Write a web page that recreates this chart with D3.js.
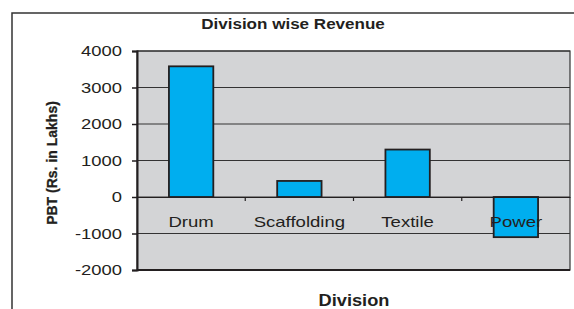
<!DOCTYPE html>
<html><head><meta charset="utf-8">
<script src="https://cdn.jsdelivr.net/npm/d3@7"></script>
<style>body{margin:0;background:#fff}svg{display:block}text{font-family:"Liberation Sans",Arial,sans-serif;fill:#231f20}</style>
</head><body><svg id="c" width="574" height="309"></svg>
<script>
const categories = ["Drum","Scaffolding","Textile","Power"];
const values = [3580, 440, 1300, -1100];
const yTicks = [-2000,-1000,0,1000,2000,3000,4000];
const title = "Division wise Revenue";
const xTitle = "Division";
const yTitle = "PBT (Rs. in Lakhs)";

const svg = d3.select("#c");
const L=137, R=570, T=51, B=270;
const x = d3.scaleBand().domain(categories).range([L,R]).paddingInner(0.59).paddingOuter(0.295);
const xb = d3.scaleBand().domain(categories).range([L,R]);
const y = d3.scaleLinear().domain([-2000,4000]).range([B,T]);

// outer frame
svg.append("path").attr("d",`M12,309 L12,13 L580,13`).attr("fill","none").attr("stroke","#333").attr("stroke-width",1.5);

// plot area
svg.append("rect").attr("x",L).attr("y",T).attr("width",R-L).attr("height",B-T)
  .attr("fill","#d3d4d6").attr("stroke","#333").attr("stroke-width",1.2);

// gridlines
svg.append("g").selectAll("line").data(yTicks).join("line")
  .attr("x1",L).attr("x2",R).attr("y1",d=>y(d)).attr("y2",d=>y(d))
  .attr("stroke","#333").attr("stroke-width",1);

// bars
svg.append("g").selectAll("rect").data(categories).join("rect")
  .attr("x",d=>x(d)).attr("width",x.bandwidth())
  .attr("y",(d,i)=>y(Math.max(0,values[i])))
  .attr("height",(d,i)=>Math.abs(y(values[i])-y(0)))
  .attr("fill","#00aeef").attr("stroke","#231f20").attr("stroke-width",1.8);

// y axis
const ya = svg.append("g").attr("transform",`translate(${L},0)`)
  .call(d3.axisLeft(y).tickValues(yTicks).tickSize(5).tickFormat(""));
ya.select(".domain").attr("stroke","#231f20").attr("stroke-width",2);
ya.selectAll(".tick line").attr("stroke","#231f20").attr("stroke-width",1.5);
svg.append("g").selectAll("text").data(yTicks).join("text")
  .attr("transform",d=>`translate(122,${y(d)+5}) scale(1.27,1)`)
  .attr("text-anchor","end").attr("font-size",14.5).text(d=>d);

// bottom axis line
svg.append("line").attr("x1",L).attr("x2",R).attr("y1",B).attr("y2",B).attr("stroke","#231f20").attr("stroke-width",2);

// x axis at zero
const xa = svg.append("g").attr("transform",`translate(0,${y(0)})`)
  .call(d3.axisBottom(xb).tickSize(0).tickFormat(""));
xa.select(".domain").attr("stroke","#231f20").attr("stroke-width",1.2);
xa.selectAll(".tick").remove();
svg.append("g").selectAll("line").data(categories.slice(1)).join("line")
  .attr("x1",d=>xb(d)).attr("x2",d=>xb(d)).attr("y1",y(0)).attr("y2",y(0)+4)
  .attr("stroke","#231f20").attr("stroke-width",1.2);
svg.append("g").selectAll("text").data(categories).join("text")
  .attr("transform",d=>`translate(${xb(d)+xb.bandwidth()/2},227) scale(1.28,1)`)
  .attr("text-anchor","middle").attr("font-size",14.5).text(d=>d);

// titles
svg.append("text").attr("transform","translate(293,29) scale(1.1,1)").attr("text-anchor","middle")
  .attr("font-size",15.5).attr("font-weight","bold").text(title);
svg.append("text").attr("transform","translate(354,306) scale(1.14,1)").attr("text-anchor","middle")
  .attr("font-size",16).attr("font-weight","bold").text(xTitle);
svg.append("text").attr("transform","translate(57,163) rotate(-90)").attr("text-anchor","middle")
  .attr("font-size",14).attr("font-weight","bold").attr("stroke","#231f20").attr("stroke-width",0.3).text(yTitle);
</script></body></html>
